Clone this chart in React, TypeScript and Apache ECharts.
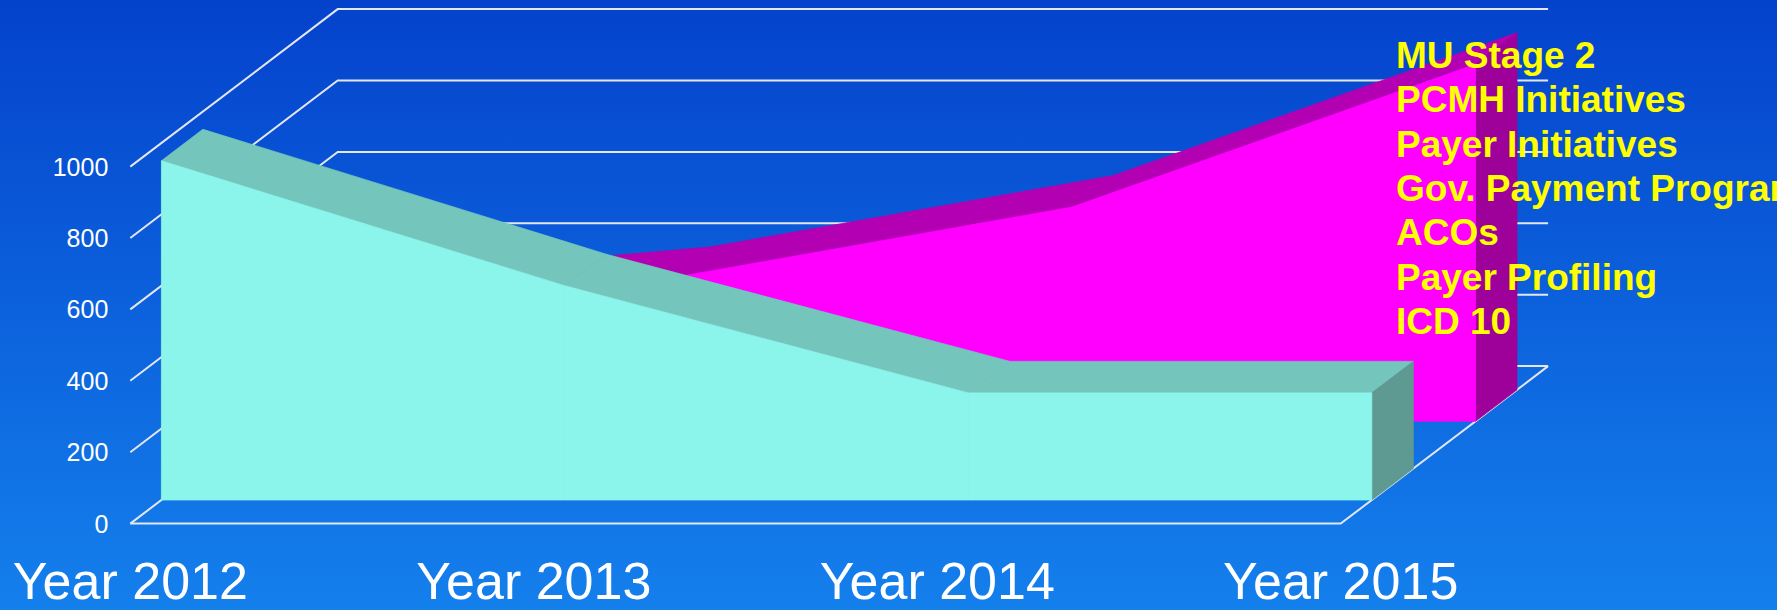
import React, { useEffect, useRef } from "react";
import * as echarts from "echarts";

const categories = ["Year 2012", "Year 2013", "Year 2014", "Year 2015"];
const currentWorkload = [950, 600, 300, 300];
const newInitiatives = [300, 400, 600, 1000];
const yTicks = [0, 200, 400, 600, 800, 1000];
const initiativeLabels = [
  "MU Stage 2",
  "PCMH Initiatives",
  "Payer Initiatives",
  "Gov. Payment Programs",
  "ACOs",
  "Payer Profiling",
  "ICD 10",
];

const W = 1777;
const H = 610;
const DX = 207.4;
const DY = -157.5;
const FONT = "'Liberation Sans', Arial, sans-serif";

const off = (p: number[], d: number) => [p[0] + d * DX, p[1] + d * DY];

function areaRenderer(n: number, d0: number, d1: number, c: { front: string; top: string; side: string }) {
  return (params: any, api: any) => {
    const i = api.value(0);
    const v = api.value(1);
    const children: any[] = [];
    if (i < n - 1) {
      const vn = api.value(2);
      const a = api.coord([i, v]);
      const b = api.coord([i + 1, vn]);
      const a0 = api.coord([i, 0]);
      const b0 = api.coord([i + 1, 0]);
      children.push({
        type: "polygon",
        z2: 1,
        shape: { points: [off(a, d0), off(b, d0), off(b, d1), off(a, d1)] },
        style: { fill: c.top, stroke: c.top, lineWidth: 0.8 },
      });
      children.push({
        type: "polygon",
        z2: 3,
        shape: { points: [off(a0, d0), off(a, d0), off(b, d0), off(b0, d0)] },
        style: { fill: c.front, stroke: c.front, lineWidth: 0.8 },
      });
    } else {
      const a = api.coord([i, v]);
      const a0 = api.coord([i, 0]);
      children.push({
        type: "polygon",
        z2: 2,
        shape: { points: [off(a0, d0), off(a, d0), off(a, d1), off(a0, d1)] },
        style: { fill: c.side, stroke: c.side, lineWidth: 0.8 },
      });
    }
    return { type: "group", children };
  };
}

export default function App() {
  const ref = useRef<HTMLDivElement>(null);
  useEffect(() => {
    document.body.style.margin = "0";
    if (!ref.current) return;
    const chart = echarts.init(ref.current, null, { renderer: "svg" });
    const n = categories.length;
    const gridStyle = { stroke: "#E4E6F0", lineWidth: 2, fill: "none" };
    const option: any = {
      animation: false,
      backgroundColor: {
        type: "linear",
        x: 0,
        y: 0,
        x2: 0,
        y2: 1,
        colorStops: [
          { offset: 0, color: "#0442CC" },
          { offset: 1, color: "#1480EC" },
        ],
      },
      grid: { left: 130.3, right: W - 1340.7, top: 166.6, bottom: H - 523.6 },
      xAxis: {
        type: "category",
        data: categories,
        boundaryGap: false,
        axisLine: { show: false },
        axisTick: { show: false },
        splitLine: { show: false },
        axisLabel: { color: "#FFFFFF", fontSize: 52, fontFamily: FONT, margin: 31, interval: 0 },
      },
      yAxis: {
        type: "value",
        min: 0,
        max: 1000,
        interval: 200,
        axisLine: { show: false },
        axisTick: { show: false },
        splitLine: { show: false },
        axisLabel: {
          color: "#FFFFFF",
          fontSize: 25,
          fontFamily: FONT,
          margin: 22,
          formatter: (v: number) => String(v),
        },
      },
      graphic: initiativeLabels.map((t, i) => ({
        type: "text",
        z: 100,
        left: 1396,
        top: 37 + i * 44.3,
        style: {
          text: t,
          fill: "#FFFF00",
          font: `bold 37px ${FONT}`,
        },
      })),
      series: [
        {
          type: "custom",
          name: "grid",
          z: 1,
          clip: false,
          silent: true,
          data: yTicks.map((t) => [0, t]),
          encode: { x: 0, y: 1 },
          renderItem: (params: any, api: any) => {
            const t = api.value(1);
            const fl = api.coord([0, t]);
            const fr = api.coord([n - 1, t]);
            const children: any[] = [
              { type: "polyline", shape: { points: [fl, off(fl, 1), off(fr, 1)] }, style: gridStyle },
            ];
            if (t === 0) {
              children.push({ type: "polyline", shape: { points: [fl, fr, off(fr, 1)] }, style: gridStyle });
            }
            return { type: "group", children };
          },
        },
        {
          type: "custom",
          name: "New initiatives",
          z: 2,
          clip: false,
          data: newInitiatives.map((v, i) => [i, v, newInitiatives[i + 1] ?? v]),
          encode: { x: 0, y: 1 },
          renderItem: areaRenderer(n, 0.65, 0.85, { front: "#FF00FF", top: "#B200B2", side: "#9E009A" }),
        },
        {
          type: "custom",
          name: "Current workload",
          z: 3,
          clip: false,
          data: currentWorkload.map((v, i) => [i, v, currentWorkload[i + 1] ?? v]),
          encode: { x: 0, y: 1 },
          renderItem: areaRenderer(n, 0.15, 0.35, { front: "#8CF5EB", top: "#74C6BC", side: "#5E9A92" }),
        },
      ],
    };
    chart.setOption(option);
    return () => chart.dispose();
  }, []);
  return <div ref={ref} style={{ width: W, height: H }} />;
}
